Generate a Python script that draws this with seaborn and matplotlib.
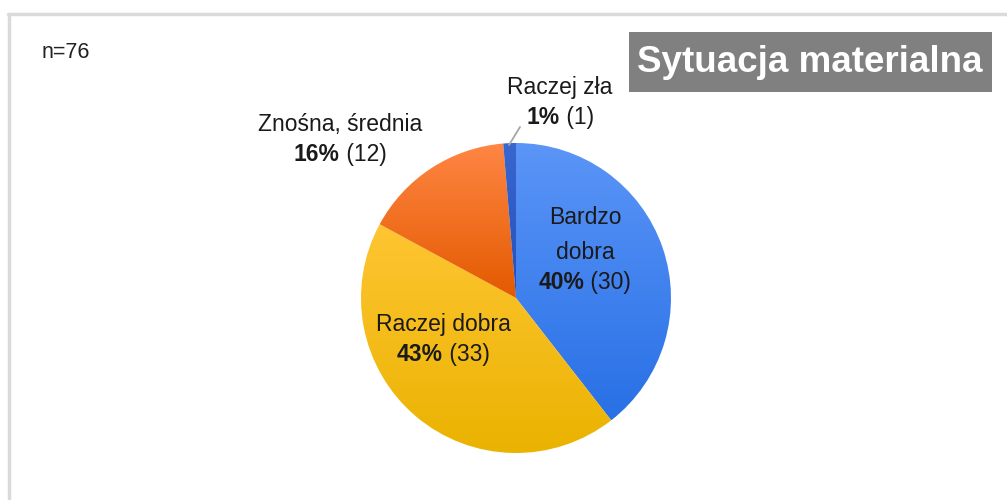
import numpy as np
import matplotlib
matplotlib.use("Agg")
import matplotlib.pyplot as plt
import seaborn as sns
from matplotlib.colors import LinearSegmentedColormap
from matplotlib.offsetbox import TextArea, HPacker, VPacker, AnnotationBbox
from matplotlib.patches import Rectangle
from matplotlib.lines import Line2D

# =========================
# DATA
# =========================
categories = ["Bardzo\ndobra", "Raczej dobra", "Znośna, średnia", "Raczej zła"]
counts = [30, 33, 12, 1]
percents = [40, 43, 16, 1]
n_total = 76
title = "Sytuacja materialna"

# top / bottom gradient colours per slice
top_colors = ["#5B95F7", "#FFC533", "#FF8644", "#3A66CF"]
bottom_colors = ["#2870E6", "#EAB300", "#E35A00", "#2450BA"]

# label positions in pie units (radius = 1)
label_pos = [(0.445, 0.31), (-0.47, -0.27), (-1.135, 1.02), (0.284, 1.26)]

# =========================
# FIGURE
# =========================
sns.set_style("white")
plt.rcParams["font.family"] = ["Liberation Sans", "DejaVu Sans"]

fig = plt.figure(figsize=(10.07, 5.0), dpi=100)

# frame border (top and left only visible)
fig.add_artist(Line2D([8 / 1007, 1], [1 - 14 / 500, 1 - 14 / 500], transform=fig.transFigure,
                      color="#DADADA", lw=2.5))
fig.add_artist(Line2D([9 / 1007, 9 / 1007], [1 - 14 / 500, 0], transform=fig.transFigure,
                      color="#DADADA", lw=2.5))

fig.text(42 / 1007, 1 - 53 / 500, f"n={n_total}", fontsize=15.5, color="#222222",
         va="center", ha="left")

# title box
fig.add_artist(Rectangle((629 / 1007, 1 - 92 / 500), 363 / 1007, 60 / 500,
                         transform=fig.transFigure, facecolor="#808080", edgecolor="none"))
fig.text(810 / 1007, 1 - 62 / 500, title, fontsize=26.5, fontweight="bold", color="white",
         ha="center", va="center")

# pie axes: centre (516, 298), radius 155 px
ax = fig.add_axes([(516 - 155) / 1007, (500 - 453) / 500, 310 / 1007, 310 / 500])
wedges, _ = ax.pie(counts, colors=top_colors, startangle=90, counterclock=False,
                   wedgeprops=dict(linewidth=0))
ax.set_aspect("equal")
ax.axis("off")

# vertical gradient inside each wedge
for w, c_top, c_bot in zip(wedges, top_colors, bottom_colors):
    bb = w.get_path().get_extents(w.get_patch_transform())
    cmap = LinearSegmentedColormap.from_list("g", [c_bot, c_top])
    grad = np.linspace(0, 1, 256).reshape(-1, 1)
    im = ax.imshow(grad, cmap=cmap, origin="lower", aspect="auto",
                   extent=[bb.x0, bb.x1, bb.y0, bb.y1], zorder=1)
    im.set_clip_path(w)
    w.set_facecolor("none")
ax.set_xlim(-1, 1)
ax.set_ylim(-1, 1)

# leader line for the small slice
ax.plot([(509 - 516) / 155, (520 - 516) / 155], [(298 - 145) / 155, (298 - 127) / 155],
        color="#A6A6A6", lw=1.3, clip_on=False, zorder=3)

# labels
fs = 16.5
for cat, pct, cnt, (x, y) in zip(categories, percents, counts, label_pos):
    name = TextArea(cat, textprops=dict(fontsize=fs, color="#1a1a1a", ha="center",
                                        multialignment="center", linespacing=1.65))
    bold = TextArea(f"{pct}%", textprops=dict(fontsize=fs, fontweight="bold", color="#1a1a1a"))
    rest = TextArea(f" ({cnt})", textprops=dict(fontsize=fs, color="#1a1a1a"))
    line2 = HPacker(children=[bold, rest], align="baseline", pad=0, sep=0)
    box = VPacker(children=[name, line2], align="center", pad=0, sep=5)
    ab = AnnotationBbox(box, (x, y), xycoords="data", frameon=False,
                        box_alignment=(0.5, 0.5), annotation_clip=False, zorder=4)
    ax.add_artist(ab)

fig.savefig("out.png", dpi=100)
